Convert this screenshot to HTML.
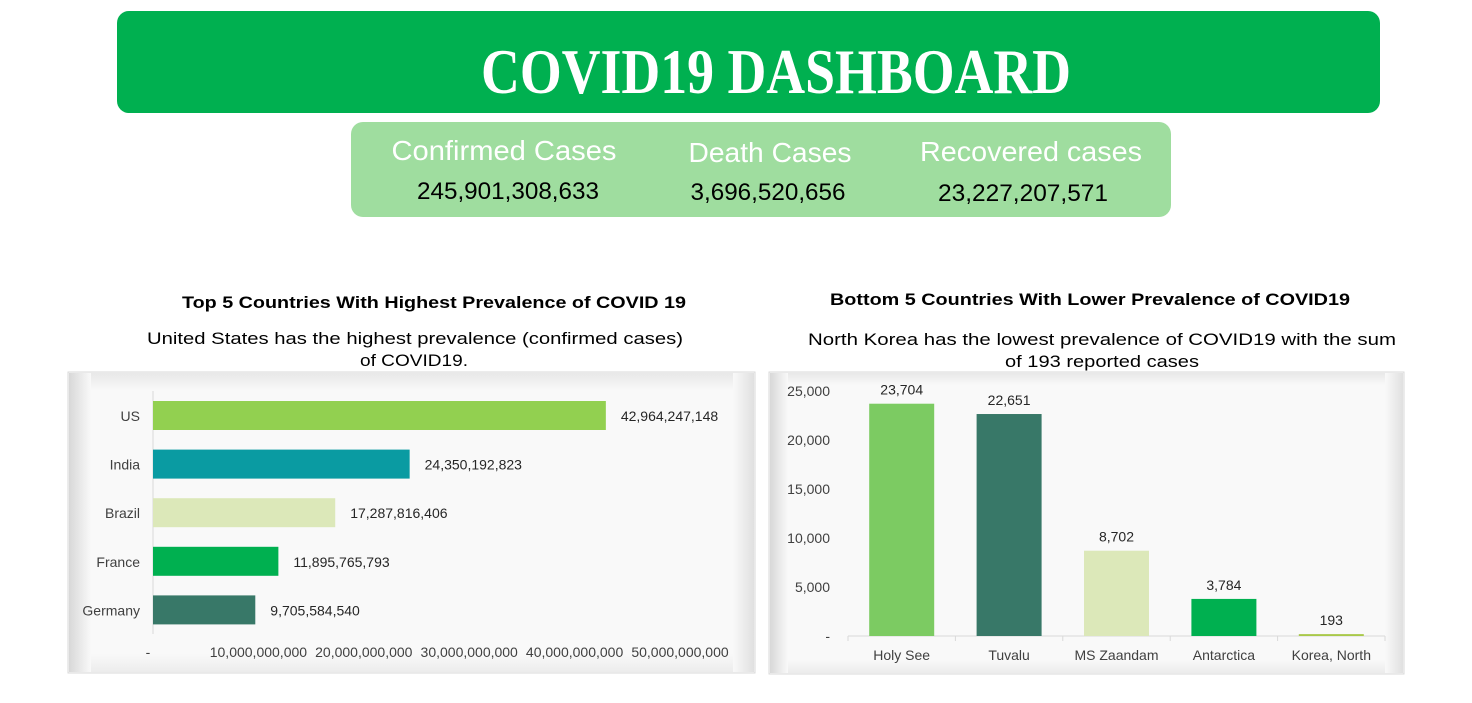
<!DOCTYPE html>
<html><head><meta charset="utf-8"><style>
body{margin:0;background:#fff;}
svg{display:block;font-family:"Liberation Sans",sans-serif;}
</style></head><body>
<svg width="1472" height="703" viewBox="0 0 1472 703">
<defs>
<linearGradient id="gl" x1="0" x2="1"><stop offset="0" stop-color="#d8d8d8"/><stop offset="1" stop-color="#f9f9f9"/></linearGradient>
<linearGradient id="gr" x1="1" x2="0"><stop offset="0" stop-color="#e0e0e0"/><stop offset="1" stop-color="#f9f9f9"/></linearGradient>
<linearGradient id="gt" y1="0" y2="1" x1="0" x2="0"><stop offset="0" stop-color="#e8e8e8"/><stop offset="1" stop-color="#f9f9f9"/></linearGradient>
<linearGradient id="gb" y1="1" y2="0" x1="0" x2="0"><stop offset="0" stop-color="#ececec"/><stop offset="1" stop-color="#f9f9f9"/></linearGradient>
</defs>
<rect x="117" y="11" width="1263" height="102" rx="12" fill="#00b050"/>
<text x="776" y="93" text-anchor="middle" font-family="Liberation Serif,serif" font-weight="bold" font-size="64" fill="#fff" textLength="590" lengthAdjust="spacingAndGlyphs">COVID19 DASHBOARD</text>
<rect x="351" y="122" width="820" height="95" rx="12" fill="#9fdd9f"/>
<g font-size="28" fill="#fff" text-anchor="middle">
<text x="504" y="160" textLength="225" lengthAdjust="spacingAndGlyphs">Confirmed Cases</text>
<text x="770" y="162" textLength="163" lengthAdjust="spacingAndGlyphs">Death Cases</text>
<text x="1031" y="161" textLength="222" lengthAdjust="spacingAndGlyphs">Recovered cases</text>
</g>
<g font-size="24" fill="#000" text-anchor="middle">
<text x="508" y="199" textLength="182" lengthAdjust="spacingAndGlyphs">245,901,308,633</text>
<text x="768" y="200" textLength="155" lengthAdjust="spacingAndGlyphs">3,696,520,656</text>
<text x="1023" y="201" textLength="170" lengthAdjust="spacingAndGlyphs">23,227,207,571</text>
</g>
<g font-weight="bold" font-size="17" fill="#000" text-anchor="middle">
<text x="434" y="308" textLength="504" lengthAdjust="spacingAndGlyphs">Top 5 Countries With Highest Prevalence of COVID 19</text>
<text x="1090" y="305" textLength="520" lengthAdjust="spacingAndGlyphs">Bottom 5 Countries With Lower Prevalence of COVID19</text>
</g>
<g font-size="17" fill="#000" text-anchor="middle">
<text x="415" y="344" textLength="536" lengthAdjust="spacingAndGlyphs">United States has the highest prevalence (confirmed cases)</text>
<text x="414" y="366" textLength="108" lengthAdjust="spacingAndGlyphs">of COVID19.</text>
<text x="1102" y="345" textLength="588" lengthAdjust="spacingAndGlyphs">North Korea has the lowest  prevalence of COVID19 with the sum</text>
<text x="1102" y="367" textLength="194" lengthAdjust="spacingAndGlyphs">of 193 reported cases</text>
</g>
<g>
<rect x="68" y="372" width="687" height="301" fill="#f9f9f9" stroke="#d9d9d9"/>
<rect x="69" y="373" width="22" height="299" fill="url(#gl)"/>
<rect x="733" y="373" width="21" height="299" fill="url(#gr)"/>
<rect x="91" y="373" width="642" height="18" fill="url(#gt)"/>
<rect x="91" y="654" width="642" height="18" fill="url(#gb)"/>
</g>
<g>
<rect x="769" y="372" width="635" height="302" fill="#f9f9f9" stroke="#d9d9d9"/>
<rect x="770" y="373" width="18" height="300" fill="url(#gl)"/>
<rect x="1385" y="373" width="18" height="300" fill="url(#gr)"/>
<rect x="788" y="373" width="597" height="12" fill="url(#gt)"/>
<rect x="788" y="660" width="597" height="13" fill="url(#gb)"/>
</g>
<g id="left" font-size="14" fill="#404040"></g>
<g id="right" font-size="14" fill="#404040"></g>
</svg>
<script>
const leftCats=["US","India","Brazil","France","Germany"];
const leftVals=[42964247148,24350192823,17287816406,11895765793,9705584540];
const leftLabels=["42,964,247,148","24,350,192,823","17,287,816,406","11,895,765,793","9,705,584,540"];
const leftTicks=[0,10000000000,20000000000,30000000000,40000000000,50000000000];
const leftTickLabels=["-","10,000,000,000","20,000,000,000","30,000,000,000","40,000,000,000","50,000,000,000"];
const leftColors=["#92d050","#0a9ba2","#dce8b9","#00b050","#387868"];
const rightCats=["Holy See","Tuvalu","MS Zaandam","Antarctica","Korea, North"];
const rightVals=[23704,22651,8702,3784,193];
const rightLabels=["23,704","22,651","8,702","3,784","193"];
const rightTicks=[0,5000,10000,15000,20000,25000];
const rightTickLabels=["-","5,000","10,000","15,000","20,000","25,000"];
const rightColors=["#7ccb62","#387868","#dce8b9","#00b050","#a9c94a"];
const NS="http://www.w3.org/2000/svg";
function mk(p,t,a,txt){const e=document.createElementNS(NS,t);for(const k in a)e.setAttribute(k,a[k]);if(txt!==undefined)e.textContent=txt;p.appendChild(e);return e;}
const L=document.getElementById('left');
const lx=v=>153+v*(680-153)/50000000000;
const lyTop=391,band=48.6;
mk(L,'line',{x1:153,y1:391,x2:153,y2:634,stroke:'#d9d9d9'});
leftCats.forEach((c,i)=>{
 const y=lyTop+band*i+10;
 const r=mk(L,'rect',{x:lx(0),y:y,width:lx(leftVals[i])-lx(0),height:29,fill:leftColors[i]});
 
 
 const t=mk(L,'text',{x:140,y:y+20,'text-anchor':'end'},c);
 
 
 const v=mk(L,'text',{x:lx(leftVals[i])+15,y:y+20,fill:'#262626'},leftLabels[i]);
 
 
});
leftTicks.forEach((v,i)=>{
 const t=mk(L,'text',{x:i==0?148:lx(v),y:657,'text-anchor':'middle'},leftTickLabels[i]);
 
 
});
const R=document.getElementById('right');
const ry=v=>636-v*(636-391)/25000;
const x0=848,x1=1385,bw=(x1-x0)/5;
mk(R,'line',{x1:x0,y1:636,x2:x1,y2:636,stroke:'#d9d9d9'});
for(let i=0;i<=5;i++)mk(R,'line',{x1:x0+bw*i,y1:636,x2:x0+bw*i,y2:641,stroke:'#d9d9d9'});
rightTicks.forEach((v,i)=>{
 const t=mk(R,'text',{x:830,y:ry(v)+5,'text-anchor':'end'},rightTickLabels[i]);
 
 
});
rightCats.forEach((c,i)=>{
 const cx=x0+bw*(i+0.5);
 const h=Math.max(636-ry(rightVals[i]),1.5);
 const r=mk(R,'rect',{x:cx-32.5,y:636-h,width:65,height:h,fill:rightColors[i]});
 
 
 const v=mk(R,'text',{x:cx,y:ry(rightVals[i])-9,'text-anchor':'middle',fill:'#262626'},rightLabels[i]);
 
 
 const t=mk(R,'text',{x:cx,y:660,'text-anchor':'middle'},c);
 
 
});
</script>
</body></html>
